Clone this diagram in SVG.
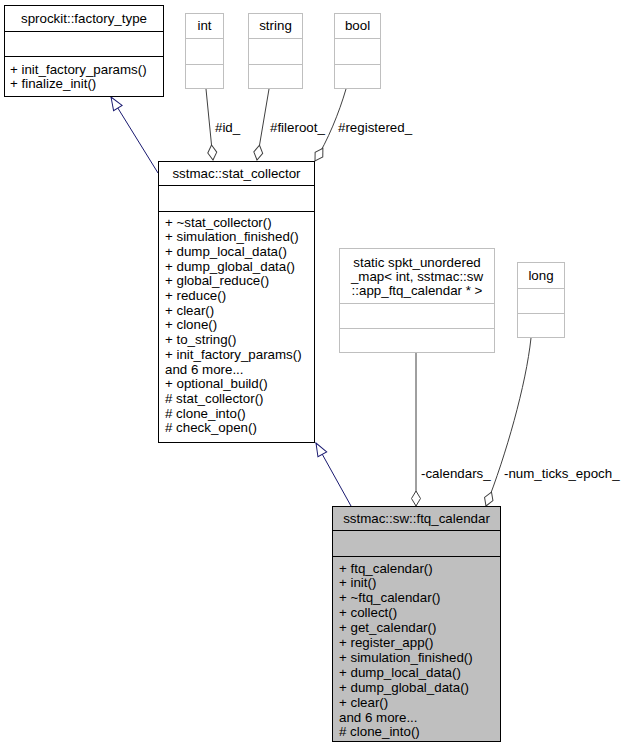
<svg xmlns="http://www.w3.org/2000/svg" width="622" height="749" viewBox="0 0 622 749">
<style>
text{font-family:"Liberation Sans",Arial,Helvetica,sans-serif;font-size:13.33px;fill:#000}
.c{text-anchor:middle}
.box{fill:#fff;stroke:#000;stroke-width:1}
.gbox{fill:#fff;stroke:#bfbfbf;stroke-width:1}
.cur{fill:#bfbfbf;stroke:#000;stroke-width:1}
.sep{stroke:#000;stroke-width:1}
.gsep{stroke:#bfbfbf;stroke-width:1}
.inh{fill:none;stroke:#191970;stroke-width:1}
.agg{fill:none;stroke:#404040;stroke-width:1}
</style>
<defs>
<marker id="tri" markerUnits="userSpaceOnUse" markerWidth="16" markerHeight="14" refX="14" refY="6" orient="auto">
<path d="M1,1 L14,6 L1,11 Z" fill="#fff" stroke="#191970" stroke-width="1"/>
</marker>
<marker id="dia" markerUnits="userSpaceOnUse" markerWidth="18" markerHeight="12" refX="16" refY="6" orient="auto">
<path d="M1,6 L8.5,1.5 L16,6 L8.5,10.5 Z" fill="#fff" stroke="#404040" stroke-width="1"/>
</marker>
</defs>
<g id="connectors">
<path class="inh" d="M158,173 L111,97" marker-end="url(#tri)"/>
<path class="inh" d="M351,506 L316,443" marker-end="url(#tri)"/>
<path class="agg" d="M206,89 L213,160" marker-end="url(#dia)"/>
<path class="agg" d="M269,89 L257,160" marker-end="url(#dia)"/>
<path class="agg" d="M346,89 C339,113 328,140 315,161" marker-end="url(#dia)"/>
<path class="agg" d="M416,353 L416,506" marker-end="url(#dia)"/>
<path class="agg" d="M531,338 C526,385 506,455 486,506" marker-end="url(#dia)"/>
<text x="215" y="132">#id_</text>
<text x="270" y="132">#fileroot_</text>
<text x="338" y="132">#registered_</text>
<text x="421" y="478">-calendars_</text>
<text x="504" y="478">-num_ticks_epoch_</text>
</g>
<g id="factory_type">
<rect class="box" x="4.5" y="5.5" width="159" height="91"/>
<line class="sep" x1="4.5" y1="31.5" x2="163.5" y2="31.5"/>
<line class="sep" x1="4.5" y1="56.5" x2="163.5" y2="56.5"/>
<text class="c" x="84" y="23">sprockit::factory_type</text>
<text x="10" y="74">+ init_factory_params()</text>
<text x="10" y="88">+ finalize_init()</text>
</g>
<g id="int">
<rect class="gbox" x="185.5" y="13.5" width="38" height="75"/>
<line class="gsep" x1="185.5" y1="38.5" x2="223.5" y2="38.5"/>
<line class="gsep" x1="185.5" y1="64.5" x2="223.5" y2="64.5"/>
<text class="c" x="204.5" y="30">int</text>
</g>
<g id="string">
<rect class="gbox" x="248.5" y="13.5" width="54" height="75"/>
<line class="gsep" x1="248.5" y1="38.5" x2="302.5" y2="38.5"/>
<line class="gsep" x1="248.5" y1="64.5" x2="302.5" y2="64.5"/>
<text class="c" x="275.5" y="30">string</text>
</g>
<g id="bool">
<rect class="gbox" x="334.5" y="13.5" width="46" height="75"/>
<line class="gsep" x1="334.5" y1="38.5" x2="380.5" y2="38.5"/>
<line class="gsep" x1="334.5" y1="64.5" x2="380.5" y2="64.5"/>
<text class="c" x="357.5" y="30">bool</text>
</g>
<g id="stat_collector">
<rect class="box" x="158.5" y="161.5" width="156" height="281"/>
<line class="sep" x1="158.5" y1="185.5" x2="314.5" y2="185.5"/>
<line class="sep" x1="158.5" y1="211.5" x2="314.5" y2="211.5"/>
<text class="c" x="236.5" y="178">sstmac::stat_collector</text>
<text x="165" y="226.5">+ ~stat_collector()</text>
<text x="165" y="241.2">+ simulation_finished()</text>
<text x="165" y="255.9">+ dump_local_data()</text>
<text x="165" y="270.6">+ dump_global_data()</text>
<text x="165" y="285.3">+ global_reduce()</text>
<text x="165" y="300">+ reduce()</text>
<text x="165" y="314.7">+ clear()</text>
<text x="165" y="329.4">+ clone()</text>
<text x="165" y="344.1">+ to_string()</text>
<text x="165" y="358.8">+ init_factory_params()</text>
<text x="165" y="373.5">and 6 more...</text>
<text x="165" y="388.2">+ optional_build()</text>
<text x="165" y="402.9"># stat_collector()</text>
<text x="165" y="417.6"># clone_into()</text>
<text x="165" y="432.3"># check_open()</text>
</g>
<g id="calendars_map">
<rect class="gbox" x="339.5" y="248.5" width="155" height="104"/>
<line class="gsep" x1="339.5" y1="303.5" x2="494.5" y2="303.5"/>
<line class="gsep" x1="339.5" y1="328.5" x2="494.5" y2="328.5"/>
<text class="c" x="417" y="267">static spkt_unordered</text>
<text class="c" x="417" y="281">_map&lt; int, sstmac::sw</text>
<text class="c" x="417" y="295">::app_ftq_calendar * &gt;</text>
</g>
<g id="long">
<rect class="gbox" x="517.5" y="262.5" width="47" height="75"/>
<line class="gsep" x1="517.5" y1="288.5" x2="564.5" y2="288.5"/>
<line class="gsep" x1="517.5" y1="313.5" x2="564.5" y2="313.5"/>
<text class="c" x="541" y="280">long</text>
</g>
<g id="ftq_calendar">
<rect class="cur" x="332.5" y="506.5" width="168" height="235"/>
<line class="sep" x1="332.5" y1="530.5" x2="500.5" y2="530.5"/>
<line class="sep" x1="332.5" y1="556.5" x2="500.5" y2="556.5"/>
<text class="c" x="416.5" y="523">sstmac::sw::ftq_calendar</text>
<text x="339" y="572.5">+ ftq_calendar()</text>
<text x="339" y="587.4">+ init()</text>
<text x="339" y="602.3">+ ~ftq_calendar()</text>
<text x="339" y="617.2">+ collect()</text>
<text x="339" y="632.1">+ get_calendar()</text>
<text x="339" y="647">+ register_app()</text>
<text x="339" y="661.9">+ simulation_finished()</text>
<text x="339" y="676.8">+ dump_local_data()</text>
<text x="339" y="691.7">+ dump_global_data()</text>
<text x="339" y="706.6">+ clear()</text>
<text x="339" y="721.5">and 6 more...</text>
<text x="339" y="736.4"># clone_into()</text>
</g>
</svg>
